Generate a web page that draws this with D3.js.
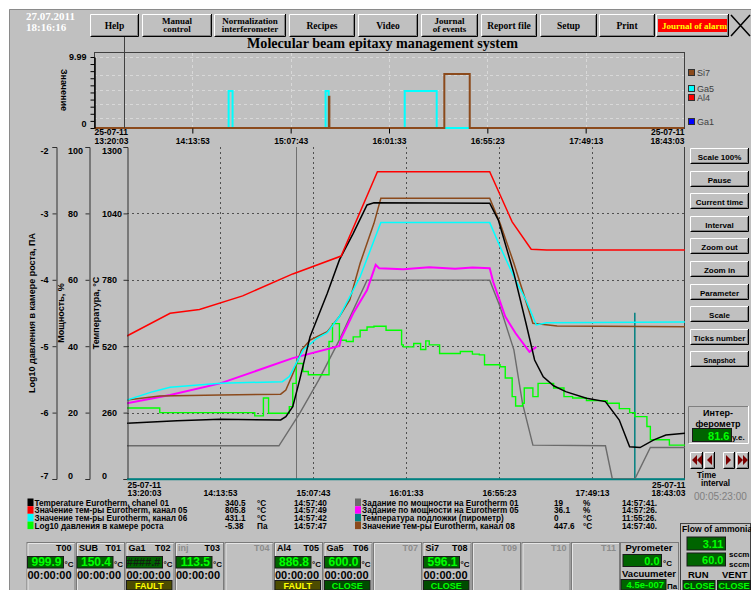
<!DOCTYPE html>
<html>
<head>
<meta charset="utf-8">
<script src="https://cdn.jsdelivr.net/npm/d3@7"></script>
<style>
  body { margin: 0; background: #fff; }
  svg { display: block; }
  text { font-family: "Liberation Sans", Arial, sans-serif; }
  .serif { font-family: "Liberation Serif", "Times New Roman", serif; }
</style>
</head>
<body>
<svg id="chart" width="751" height="590"></svg>
<script>
// ---- data ----
const timeTicks = ['13:20:03', '14:13:53', '15:07:43', '16:01:33', '16:55:23', '17:49:13', '18:43:03'];
const dateLabel = '25-07-11';
const tempTicks = [0, 260, 520, 780, 1040, 1300];
const powerTicks = [0, 20, 40, 60, 80, 100];
const logTicks = [-7, -6, -5, -4, -3, -2];
const cursorMain = '14:57:42';
const cursorTop = '13:36:39';

// temperatures, °C
const tempCh01 = [['13:20', 218], ['13:49', 228], ['14:14', 234], ['14:49', 231], ['14:52', 244], ['14:56', 283], ['15:00', 388], ['15:06', 557], ['15:16', 727], ['15:23', 858], ['15:31', 962], ['15:39', 1073], ['15:43', 1082], ['16:50', 1080], ['16:55', 1014], ['17:04', 805], ['17:11', 610], ['17:16', 466], ['17:21', 400], ['17:27', 365], ['17:34', 342], ['17:46', 316], ['17:57', 303], ['18:05', 231], ['18:11', 126], ['18:17', 123], ['18:25', 153], ['18:32', 172], ['18:43', 179]];
const tempCh05 = [['13:20', 560], ['13:45', 649], ['14:02', 664], ['14:27', 717], ['14:56', 803], ['15:24', 873], ['15:45', 1203], ['16:50', 1203], ['17:03', 1007], ['17:14', 900], ['17:23', 897], ['18:43', 897]];
const tempCh06 = [['13:20', 309], ['13:35', 342], ['13:45', 359], ['14:14', 375], ['14:50', 381], ['14:54', 401], ['15:02', 505], ['15:10', 551], ['15:16', 573], ['15:23', 636], ['15:35', 792], ['15:47', 1004], ['16:50', 1004], ['16:56', 910], ['17:04', 792], ['17:11', 701], ['17:17', 603], ['17:23', 612], ['18:43', 615]];
const tempCh08 = [['13:20', 309], ['13:39', 325], ['14:14', 329], ['14:49', 332], ['14:52', 348], ['14:57', 427], ['15:01', 505], ['15:06', 544], ['15:16', 577], ['15:23', 636], ['15:29', 701], ['15:35', 845], ['15:43', 1001], ['15:47', 1099], ['16:50', 1099], ['16:56', 1001], ['17:04', 845], ['17:15', 610], ['17:29', 599], ['18:43', 596]];
const tempSubstrate = [['13:20', 0], ['18:14', 0], ['18:14', 651], ['18:14', 0], ['18:43', 0]];
// power set points, %
const power01 = [['13:20', 10.0], ['14:48', 10.0], ['15:00', 19.8], ['15:11', 29.8], ['15:23', 41.9], ['15:39', 59.9], ['16:50', 59.9], ['16:56', 51.9], ['17:04', 38.9], ['17:09', 22.8], ['17:15', 10.2], ['17:57', 10.0], ['18:01', 0], ['18:14', 0], ['18:23', 9.5], ['18:43', 9.5]];
const power05 = [['13:20', 22.8], ['13:45', 25.3], ['14:14', 28.8], ['14:56', 36.4], ['15:23', 40.1], ['15:24', 42.4], ['15:31', 49.9], ['15:39', 56.9], ['15:44', 64.5], ['15:46', 63.5], ['16:00', 63.2], ['16:15', 63.8], ['16:30', 63.3], ['16:40', 63.7], ['16:50', 63.5], ['16:52', 59.4], ['16:59', 48.9], ['17:05', 43.9], ['17:13', 38.3], ['17:17', 39.8]];
// log10 pressure, Pa (stepped)
const logPressure = [['13:20', -5.93], ['13:39', -6.00], ['14:34', -6.05], ['14:39', -5.78], ['14:42', -6.01], ['14:54', -5.91], ['14:56', -5.56], ['14:58', -5.26], ['15:02', -5.38], ['15:05', -5.43], ['15:17', -4.93], ['15:19', -4.66], ['15:23', -4.91], ['15:27', -4.93], ['15:31', -4.86], ['15:35', -4.76], ['15:39', -4.71], ['15:43', -4.70], ['15:50', -4.76], ['15:59', -4.98], ['16:00', -5.01], ['16:06', -4.96], ['16:10', -5.05], ['16:13', -4.92], ['16:15', -4.98], ['16:21', -5.11], ['16:33', -5.08], ['16:40', -5.12], ['16:44', -5.13], ['16:47', -5.28], ['16:56', -5.31], ['16:59', -5.48], ['17:03', -5.76], ['17:05', -5.90], ['17:09', -5.86], ['17:10', -5.63], ['17:15', -5.76], ['17:18', -5.56], ['17:27', -5.63], ['17:33', -5.76], ['17:38', -5.78], ['17:46', -5.82], ['17:58', -5.86], ['18:05', -5.94], ['18:11', -6.00], ['18:14', -6.06], ['18:21', -6.21], ['18:23', -6.41], ['18:34', -6.49], ['18:43', -6.49]];

// upper chart: shutters
const topNames = ['Si7', 'Ga5', 'Al4', 'Ga1'];
const topColors = ['#8b4a1c', '#00ffff', '#ff0000', '#0000ff'];
const shutterGa1 = [['13:20:03', 0], ['18:43:03', 0]];
const shutterAl4 = [['13:20:03', 0], ['18:43:03', 0]];
const shutterGa5 = [['13:20:03', 0], ['14:33:45', 5.2], ['14:35:55', 0], ['15:26:50', 5.2], ['15:28:30', 0], ['16:10:10', 5.2], ['16:27:40', 0], ['18:43:03', 0]];
const shutterSi7 = [['13:20:03', 0], ['15:28:40', 4.4], ['15:28:55', 0], ['16:31:50', 7.6], ['16:45:45', 0], ['18:43:03', 0]];

// legend table
const legendNames = ['Temperature Eurotherm, chanel  01', 'Значение тем-ры Eurotherm, канал 05', 'Значение тем-ры Eurotherm, канал 06', 'Log10 давления в камере роста',
  'Задание по мощности на Eurotherm 01', 'Задание по мощности на Eurotherm 05', 'Температура подложки (пирометр)', 'Значение тем-ры Eurotherm, канал 08'];
const legendColors = ['#000000', '#ff0000', '#00ffff', '#00ff00', '#6b6b6b', '#ff00ff', '#008080', '#8b4a1c'];
const legendValues = ['340.5', '805.8', '431.1', '-5.38', '19', '36.1', '0', '447.6'];
const legendUnits = ['°C', '°C', '°C', 'Па', '%', '%', '°C', '°C'];
const legendTimes = ['14:57:40', '14:57:49', '14:57:42', '14:57:47', '14:57:41.', '14:57:26.', '11:55:26.', '14:57:40.'];

// bottom cells
const cellTitles = ['T00', 'T01', 'T02', 'T03', 'T04', 'T05', 'T06', 'T07', 'T08', 'T09', 'T10', 'T11'];
const cellNames = ['', 'SUB', 'Ga1', 'inj', '', 'Al4', 'Ga5', '', 'Si7', '', '', ''];
const cellValues = ['999.9', '150.4', '####.#', '113.5', null, '886.8', '600.0', null, '596.1', null, null, null];
const cellStatus = [null, null, 'FAULT', null, null, 'FAULT', 'CLOSE', null, 'CLOSE', null, null, null];

const topButtons = [['Help'], ['Manual', 'control'], ['Normalization', 'interferometer'], ['Recipes'], ['Video'], ['Journal', 'of events'], ['Report file'], ['Setup'], ['Print'], ['Journal of alarms']];
const sideButtons = ['Scale 100%', 'Pause', 'Current time', 'Interval', 'Zoom out', 'Zoom in', 'Parameter', 'Scale', 'Ticks number', 'Snapshot'];

// ---- drawing ----
const svg = d3.select('#chart');
const parseHMS = d3.timeParse('%H:%M:%S');
const parseHM = d3.timeParse('%H:%M');
const parseT = s => (s.length > 5 ? parseHMS(s) : parseHM(s));
const fmtTime = d3.timeFormat('%H:%M:%S');

svg.append('rect').attr('x', 9).attr('y', 9).attr('width', 742).attr('height', 581).attr('fill', '#c0c0c0');
svg.append('path').attr('d', 'M9.5,590V9.5H751').attr('stroke', '#8a8a8a').attr('fill', 'none');

function bevel(x, y, w, h) {
    const g = svg.append('g');
    g.append('rect').attr('x', x).attr('y', y).attr('width', w).attr('height', h).attr('fill', '#c0c0c0');
    g.append('path').attr('d', `M${x + 0.5},${y + h}V${y + 0.5}H${x + w}`).attr('stroke', '#fff').attr('fill', 'none');
    g.append('path').attr('d', `M${x + 0.5},${y + h - 0.5}H${x + w - 0.5}V${y}`).attr('stroke', '#000').attr('fill', 'none');
    g.append('path').attr('d', `M${x + 1.5},${y + h - 1.5}H${x + w - 1.5}V${y + 1}`).attr('stroke', '#808080').attr('fill', 'none');
    return g;
}

function sunken(x, y, w, h) {
    svg.append('path').attr('d', `M${x + 0.5},${y + h}V${y + 0.5}H${x + w}`).attr('stroke', '#808080').attr('fill', 'none');
    svg.append('path').attr('d', `M${x + 0.5},${y + h - 0.5}H${x + w - 0.5}V${y}`).attr('stroke', '#fff').attr('fill', 'none');
}

function lcd(x, y, w, h, txt, size, color) {
    svg.append('rect').attr('x', x + 0.5).attr('y', y + 0.5).attr('width', w).attr('height', h)
        .attr('fill', '#006400').attr('stroke', '#1a1a1a');
    svg.append('text').attr('x', x + w - 1.5).attr('y', y + h - 1.5).attr('text-anchor', 'end')
        .attr('font-weight', 'bold').attr('font-size', size).attr('fill', color || '#00ff00').text(txt);
}

function status(x, y, w, h, txt) {
    const fault = txt === 'FAULT';
    svg.append('rect').attr('x', x + 0.5).attr('y', y + 0.5).attr('width', w).attr('height', h)
        .attr('fill', fault ? '#4c4c00' : '#004c00').attr('stroke', '#1a1a1a');
    svg.append('text').attr('x', x + w / 2 + 0.5).attr('y', y + h - 1).attr('text-anchor', 'middle')
        .attr('font-weight', 'bold').attr('font-size', 9).attr('fill', fault ? '#ffff00' : '#00ff00').text(txt);
}

// date / time
svg.append('text').attr('class', 'serif').attr('x', 26).attr('y', 20).attr('font-size', 11).attr('font-weight', 'bold').attr('fill', '#fff').text('27.07.2011');
svg.append('text').attr('class', 'serif').attr('x', 26).attr('y', 31).attr('font-size', 11).attr('font-weight', 'bold').attr('fill', '#fff').text('18:16:16');

// top buttons
const topBtnX = [90, 142, 214, 289, 358, 421, 481, 540, 599, 656];
const topBtnW = [49, 70, 72, 66, 60, 57, 56, 57, 56, 73];
topButtons.forEach((lines, i) => {
    const g = bevel(topBtnX[i], 14, topBtnW[i], 23);
    const cx = topBtnX[i] + topBtnW[i] / 2;
    if (i === topButtons.length - 1) {
        svg.append('clipPath').attr('id', 'alarmClip').append('rect').attr('x', 658).attr('y', 19).attr('width', 69).attr('height', 13);
        g.append('rect').attr('x', 658).attr('y', 19).attr('width', 69).attr('height', 13).attr('fill', '#ff0000');
        g.append('text').attr('class', 'serif').attr('clip-path', 'url(#alarmClip)').attr('x', 662).attr('y', 29)
            .attr('font-size', 9).attr('font-weight', 'bold').attr('fill', '#ffff00').text(lines[0]);
        return;
    }
    lines.forEach((ln, k) => {
        g.append('text').attr('class', 'serif').attr('x', cx).attr('y', lines.length === 1 ? 29 : 23.5 + k * 8.5)
            .attr('text-anchor', 'middle').attr('font-size', lines.length === 1 ? 9.5 : 9).attr('font-weight', 'bold')
            .attr('fill', '#000').text(ln);
    });
});
svg.append('path').attr('d', 'M731,15L750,36M750,15L731,36').attr('stroke', '#000').attr('stroke-width', 1.5);

// title
svg.append('text').attr('class', 'serif').attr('x', 247).attr('y', 48).attr('font-size', 15.5).attr('font-weight', 'bold')
    .attr('textLength', 271).attr('lengthAdjust', 'spacingAndGlyphs').attr('fill', '#000')
    .text('Molecular beam epitaxy management system');

// ---- upper chart ----
const t0 = parseT(timeTicks[0]);
const t1 = parseT(timeTicks[timeTicks.length - 1]);
const tickDates = timeTicks.map(parseT);
const xTop = d3.scaleTime().domain([t0, t1]).range([94, 684]);
const yTop = d3.scaleLinear().domain([0, 9.99]).range([128, 57]);

const topGrid = svg.append('g');
[1.4, 3.4, 5.4, 7.4, 9.99].forEach(v => {
    topGrid.append('line').attr('x1', 94).attr('x2', 684).attr('y1', Math.round(yTop(v)) + 0.5).attr('y2', Math.round(yTop(v)) + 0.5)
        .attr('stroke', '#d8d8d8').attr('stroke-dasharray', '3,3');
});
tickDates.slice(1, -1).forEach(d => {
    topGrid.append('line').attr('x1', Math.round(xTop(d)) + 0.5).attr('x2', Math.round(xTop(d)) + 0.5).attr('y1', 53).attr('y2', 128)
        .attr('stroke', '#d8d8d8').attr('stroke-dasharray', '3,3');
});
svg.append('rect').attr('x', 94.5).attr('y', 52.5).attr('width', 590).attr('height', 76).attr('fill', 'none').attr('stroke', '#404040');

const topLine = d3.line().x(d => xTop(parseT(d[0]))).y(d => yTop(d[1])).curve(d3.curveStepAfter);
[[shutterGa1, topColors[3]], [shutterAl4, topColors[2]], [shutterGa5, topColors[1]], [shutterSi7, topColors[0]]].forEach(([data, color]) => {
    svg.append('path').datum(data).attr('d', topLine).attr('fill', 'none').attr('stroke', color).attr('stroke-width', 2);
});

const topAxisY = svg.append('g').attr('transform', 'translate(94.5,0)')
    .call(d3.axisLeft(yTop).tickValues(d3.range(0, 10).concat([9.99])).tickSize(4).tickSizeOuter(0)
        .tickFormat(d => (d === 0 ? '0' : d === 9.99 ? '9.99' : '')));
topAxisY.select('.domain').attr('stroke', '#000').attr('stroke-width', 1.5);
topAxisY.selectAll('text').attr('font-size', 9).attr('font-weight', 'bold').attr('x', -8)
    .attr('dy', d => (d === 0 ? '-0.2em' : '0.32em'));
svg.append('text').attr('transform', 'translate(61,90) rotate(90)').attr('text-anchor', 'middle')
    .attr('font-size', 9).attr('font-weight', 'bold').text('Значение');

function timeAxis(scale, y, tickLen, timeY, dateY) {
    const g = svg.append('g').attr('transform', `translate(0,${y})`)
        .call(d3.axisBottom(scale).tickValues(tickDates).tickSize(tickLen).tickSizeOuter(0).tickFormat(fmtTime));
    g.select('.domain').remove();
    const n = tickDates.length;
    g.selectAll('.tick line').attr('stroke', '#000').attr('opacity', (d, i) => (i === 0 || i === n - 1 ? 0 : 1));
    g.selectAll('.tick text').attr('y', timeY).attr('dy', 0).attr('font-size', 8.5).attr('font-weight', 'bold').attr('fill', '#000')
        .attr('text-anchor', (d, i) => (i === 0 ? 'start' : i === n - 1 ? 'end' : 'middle'));
    g.selectAll('.tick').filter((d, i) => i === 0 || i === n - 1).append('text')
        .attr('y', dateY).attr('font-size', 8.5).attr('font-weight', 'bold').attr('fill', '#000')
        .attr('text-anchor', (d, i) => (i === 0 ? 'start' : 'end')).text(dateLabel);
    return g;
}
timeAxis(xTop, 128.5, 5, 15, 6.5);

// cursor of the upper chart
svg.append('line').attr('x1', Math.round(xTop(parseT(cursorTop))) + 0.5).attr('x2', Math.round(xTop(parseT(cursorTop))) + 0.5)
    .attr('y1', 37).attr('y2', 128).attr('stroke', '#404040');

// upper legend
const topLegendY = [73, 89, 98, 122];
topNames.forEach((name, i) => {
    svg.append('rect').attr('x', 688.5).attr('y', topLegendY[i] - 3.5).attr('width', 6).attr('height', 6)
        .attr('fill', topColors[i]).attr('stroke', '#303030');
    svg.append('text').attr('x', 697).attr('y', topLegendY[i] + 3).attr('font-size', 9).attr('fill', '#404040').text(name);
});

// ---- main chart ----
const x = d3.scaleTime().domain([t0, t1]).range([127, 685]);
const yTemp = d3.scaleLinear().domain([0, 1300]).range([479, 147]);
const yPow = d3.scaleLinear().domain([0, 100]).range([479, 147]);
const yLog = d3.scaleLinear().domain([-7, -2]).range([479, 147]);

const grid = svg.append('g');
tempTicks.slice(1, -1).forEach(v => {
    grid.append('line').attr('x1', 127).attr('x2', 685).attr('y1', Math.round(yTemp(v)) + 0.5).attr('y2', Math.round(yTemp(v)) + 0.5)
        .attr('stroke', '#505050').attr('stroke-dasharray', '2,3');
});
tickDates.slice(1, -1).forEach(d => {
    grid.append('line').attr('x1', Math.round(x(d)) + 0.5).attr('x2', Math.round(x(d)) + 0.5).attr('y1', 147).attr('y2', 479)
        .attr('stroke', '#505050').attr('stroke-dasharray', '2,3');
});
svg.append('line').attr('x1', 684.5).attr('x2', 684.5).attr('y1', 147).attr('y2', 480).attr('stroke', '#404040');

// cursor
svg.append('line').attr('x1', Math.round(x(parseT(cursorMain))) + 0.5).attr('x2', Math.round(x(parseT(cursorMain))) + 0.5)
    .attr('y1', 147).attr('y2', 479).attr('stroke', '#707070');

svg.append('clipPath').attr('id', 'plotClip').append('rect').attr('x', 127).attr('y', 146).attr('width', 558).attr('height', 335);
const plot = svg.append('g').attr('clip-path', 'url(#plotClip)');
const series = [
    { data: tempSubstrate, y: yTemp, color: legendColors[6], w: 1.5 },
    { data: power01, y: yPow, color: legendColors[4], w: 1.4 },
    { data: logPressure, y: yLog, color: legendColors[3], w: 1.4, step: true },
    { data: power05, y: yPow, color: legendColors[5], w: 2 },
    { data: tempCh08, y: yTemp, color: legendColors[7], w: 1.5 },
    { data: tempCh06, y: yTemp, color: legendColors[2], w: 1.5 },
    { data: tempCh01, y: yTemp, color: legendColors[0], w: 1.5 },
    { data: tempCh05, y: yTemp, color: legendColors[1], w: 1.5 }
];
series.forEach(s => {
    const line = d3.line().x(d => x(parseT(d[0]))).y(d => s.y(d[1])).curve(s.step ? d3.curveStepAfter : d3.curveLinear);
    plot.append('path').datum(s.data).attr('d', line).attr('fill', 'none').attr('stroke', s.color).attr('stroke-width', s.w);
});

// left axes (end labels pulled inside like the original)
function leftAxis(scale, ticks, xPos, labelX, anchor) {
    const g = svg.append('g').attr('transform', `translate(${xPos},0)`)
        .call(d3.axisLeft(scale).tickValues(ticks).tickSize(4).tickSizeOuter(4).tickFormat(d => String(d)));
    g.select('.domain').attr('stroke', '#303030');
    g.selectAll('.tick line').attr('stroke', '#303030');
    const lo = ticks[0], hi = ticks[ticks.length - 1];
    g.selectAll('text').attr('x', labelX).attr('text-anchor', anchor).attr('font-size', 9).attr('font-weight', 'bold').attr('fill', '#000')
        .attr('dy', d => (d === hi ? '0.7em' : d === lo ? '-0.1em' : '0.32em'));
}
leftAxis(yLog, logTicks, 56.5, -8, 'end');
leftAxis(yPow, powerTicks, 89.5, -21.5, 'start');
leftAxis(yTemp, tempTicks, 127.5, -25.5, 'start');

const axisTitles = [['Log10 давления в камере роста, ПА', 35], ['Мощность, %', 64], ['Температура, °C', 99]];
axisTitles.forEach(([t, px]) => {
    svg.append('text').attr('transform', `translate(${px},313) rotate(-90)`).attr('text-anchor', 'middle')
        .attr('font-size', 9).attr('font-weight', 'bold').text(t);
});

timeAxis(x, 479, 0, 17, 8.5);
svg.append('line').attr('x1', 127).attr('x2', 685).attr('y1', 479.5).attr('y2', 479.5).attr('stroke', '#008080').attr('stroke-width', 1.5);

// ---- legend table ----
legendNames.forEach((name, i) => {
    const col = Math.floor(i / 4), row = i % 4;
    const base = 505.5 + row * 7.7;
    const x0 = col === 0 ? 27.5 : 355;
    svg.append('rect').attr('x', x0).attr('y', base - 7).attr('width', 6).attr('height', 7.5).attr('fill', legendColors[i]);
    const t = (xx, txt) => svg.append('text').attr('x', xx).attr('y', base).attr('font-size', 8.2).attr('font-weight', 'bold').attr('fill', '#000').text(txt);
    t(x0 + 7, name);
    t(col === 0 ? 225 : 554, legendValues[i]);
    t(col === 0 ? 257 : 583, legendUnits[i]);
    t(col === 0 ? 294 : 622, legendTimes[i]);
});

// ---- right side controls ----
sideButtons.forEach((label, i) => {
    const y = 148 + i * 22.6;
    const g = bevel(690, Math.round(y), 59, 16);
    g.append('text').attr('x', 719.5).attr('y', Math.round(y) + 11.5).attr('text-anchor', 'middle')
        .attr('font-size', label === 'Snapshot' ? 7 : 8).attr('font-weight', 'bold').attr('fill', '#000').text(label);
});

sunken(688, 406, 61, 38);
svg.append('text').attr('x', 718).attr('y', 416).attr('text-anchor', 'middle').attr('font-size', 9).attr('font-weight', 'bold').text('Интер-');
svg.append('text').attr('x', 718).attr('y', 426.5).attr('text-anchor', 'middle').attr('font-size', 9).attr('font-weight', 'bold').text('ферометр');
lcd(692, 428, 39, 13, '81.6', 11);
svg.append('text').attr('x', 732).attr('y', 440).attr('font-size', 8).attr('font-weight', 'bold').text('у.е.');

const navX = [690, 704, 723, 736];
const navW = [13, 11, 12, 13];
const navIcons = [
    'M697,455L692,460L697,465ZM702,455L697,460L702,465Z',
    'M712,455L707,460L712,465Z',
    'M726,455L731,460L726,465Z',
    'M738,455L743,460L738,465ZM743,455L748,460L743,465Z'
];
navX.forEach((nx, i) => {
    const g = bevel(nx, 452, navW[i], 17);
    g.append('path').attr('d', navIcons[i]).attr('fill', '#7a0000');
});
svg.append('text').attr('x', 697).attr('y', 478).attr('font-size', 8.2).attr('font-weight', 'bold').text('Time');
svg.append('text').attr('x', 701).attr('y', 486).attr('font-size', 8.2).attr('font-weight', 'bold').text('interval');
svg.append('text').attr('x', 694).attr('y', 500).attr('font-size', 10).attr('fill', '#7f7f7f').text('00:05:23:00');

// ---- bottom cells ----
cellTitles.forEach((title, i) => {
    const x0 = 26.5 + i * 49.5;
    const empty = cellValues[i] === null;
    svg.append('rect').attr('x', x0 + 0.5).attr('y', 542.5).attr('width', 48).attr('height', 50).attr('fill', 'none').attr('stroke', '#7a7a7a');
    svg.append('path').attr('d', `M${x0 + 1.5},592V543.5H${x0 + 48}`).attr('stroke', '#e6e6e6').attr('fill', 'none');
    svg.append('text').attr('x', x0 + 45).attr('y', 550.5).attr('text-anchor', 'end').attr('font-size', 9).attr('font-weight', 'bold')
        .attr('fill', empty ? '#8c8c8c' : '#000').text(title);
    if (cellNames[i]) {
        svg.append('text').attr('x', x0 + 3).attr('y', 550.5).attr('font-size', 9).attr('font-weight', 'bold')
            .attr('fill', cellNames[i] === 'inj' ? '#8c8c8c' : '#000').text(cellNames[i]);
    }
    if (empty) return;
    const hashed = cellValues[i].startsWith('#');
    lcd(x0 + 0.5, 556, 36, 11.5, cellValues[i], hashed ? 11 : 12, hashed ? '#102010' : null);
    svg.append('text').attr('x', x0 + 38).attr('y', 566.5).attr('font-size', 8).attr('font-weight', 'bold').text('°C');
    svg.append('text').attr('x', x0 + 1).attr('y', 578.5).attr('font-size', 11).attr('font-weight', 'bold').text('00:00:00');
    if (cellStatus[i]) status(x0 + 0.5, 580, 45.5, 9.5, cellStatus[i]);
});

// pyrometer / vacuumeter
svg.append('rect').attr('x', 620.5).attr('y', 542.5).attr('width', 58).attr('height', 50).attr('fill', 'none').attr('stroke', '#7a7a7a');
svg.append('text').attr('x', 649).attr('y', 550.5).attr('text-anchor', 'middle').attr('font-size', 9.5).attr('font-weight', 'bold').text('Pyrometer');
lcd(622.5, 554, 38.5, 12, '0.0', 11);
svg.append('text').attr('x', 663).attr('y', 566).attr('font-size', 8).attr('font-weight', 'bold').text('°C');
svg.append('text').attr('x', 649).attr('y', 576.5).attr('text-anchor', 'middle').attr('font-size', 9.5).attr('font-weight', 'bold').text('Vacuumeter');
lcd(620.5, 579, 45, 10.5, '4.5e-007', 9.5);
svg.append('text').attr('x', 667).attr('y', 589).attr('font-size', 8).attr('font-weight', 'bold').text('Па');

// flow of ammonia
svg.append('rect').attr('x', 680.5).attr('y', 523.5).attr('width', 70).attr('height', 68).attr('fill', '#c0c0c0').attr('stroke', '#404040');
svg.append('text').attr('x', 682).attr('y', 531.5).attr('font-size', 8.6).attr('font-weight', 'bold').text('Flow of ammonia');
lcd(686.5, 536.5, 38.5, 13, '3.11', 11);
svg.append('text').attr('x', 729).attr('y', 557).attr('font-size', 8).attr('font-weight', 'bold').text('sccm');
lcd(686.5, 552.5, 38.5, 13, '60.0', 11);
svg.append('text').attr('x', 729).attr('y', 567).attr('font-size', 8).attr('font-weight', 'bold').text('sccm');
svg.append('text').attr('x', 688).attr('y', 577.5).attr('font-size', 9.5).attr('font-weight', 'bold').text('RUN');
svg.append('text').attr('x', 722).attr('y', 577.5).attr('font-size', 9.5).attr('font-weight', 'bold').text('VENT');
status(682.5, 580, 32, 9.5, 'CLOSE');
status(717, 580, 33, 9.5, 'CLOSE');
</script>
</body>
</html>
